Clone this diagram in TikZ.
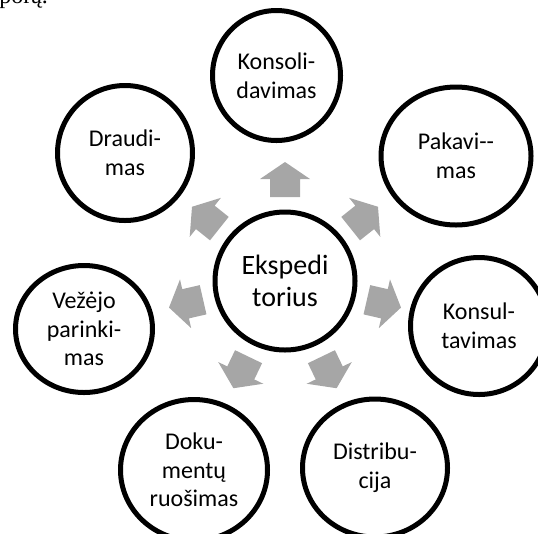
\documentclass[tikz,border=0pt]{standalone}
\usepackage{fontspec}
\setmainfont{Carlito}
\newfontfamily\serifword{Liberation Serif}
\usetikzlibrary{shapes.geometric}
\definecolor{arrowgray}{RGB}{166,166,166}
\begin{document}
\begin{tikzpicture}[x=0.75pt,y=-0.75pt,
  bubble/.style={ellipse, draw=black, line width=3.75pt, fill=white, inner sep=0pt, align=center, font=\fontsize{18}{21.5}\selectfont},
  hub/.style={bubble, font=\fontsize{21}{24}\selectfont},
  blockarrow/.style={fill=arrowgray, draw=none}]
\useasboundingbox (0,0) rectangle (538,533);
\clip (0,0) rectangle (538,533);
\node[anchor=base west, inner sep=0pt, font=\serifword\fontsize{18}{20}\selectfont] (cut) at (-1,3) {porą.};
% block arrows
\begin{scope}[shift={(285,281)}]
\foreach \a in {90,38.6,-12.9,-64.3,-115.7,-167.1,141.4}
  \fill[blockarrow, rotate=\a] (84,-15) -- (102,-15) -- (102,-25) -- (119,0) -- (102,25) -- (102,15) -- (84,15) -- cycle;
\end{scope}
% circles
\node[hub, minimum width=140*0.75pt, minimum height=138*0.75pt] (hubnode) at (285,281) {Ekspedi\\torius};
\node[bubble, minimum width=128*0.75pt, minimum height=130*0.75pt] (konsol) at (276.5,75.5) {Konsoli-\\davimas};
\node[bubble, minimum width=150*0.75pt, minimum height=138*0.75pt] (pakav) at (456,156) {Pakavi-{}-\\mas};
\node[bubble, minimum width=137*0.75pt, minimum height=137*0.75pt] (konsul) at (479,326) {Konsul-\\tavimas};
\node[bubble, minimum width=145*0.75pt, minimum height=138*0.75pt] (distr) at (375,468) {Distribu-\\cija};
\node[bubble, minimum width=147*0.75pt, minimum height=141*0.75pt] (doku) at (194,470) {Doku-\\mentų\\ruošimas};
\node[bubble, minimum width=137*0.75pt, minimum height=127*0.75pt] (vezejo) at (84,329) {Vežėjo\\parinki-\\mas};
\node[bubble, minimum width=135*0.75pt, minimum height=135*0.75pt] (draud) at (125,153) {Draudi-\\mas};
\end{tikzpicture}
\end{document}
